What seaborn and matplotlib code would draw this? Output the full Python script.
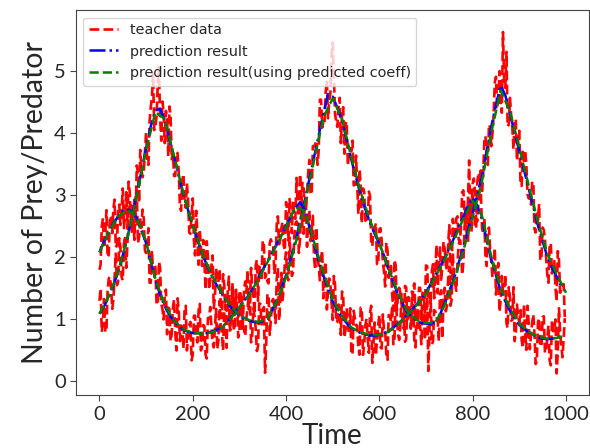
import numpy as np
import pandas as pd
import matplotlib
matplotlib.use("Agg")
import matplotlib.pyplot as plt
import seaborn as sns

# teacher data (noisy) at two interleaved time grids
t_teacher = [5 * k for k in range(200)]
t_teacher_b = [5 * k + 2.5 for k in range(200)]

prey_teacher = [
    1.29, 0.79, 1.32, 0.80, 1.65, 1.49, 1.32, 2.05, 1.60, 2.15,
    1.62, 2.34, 2.22, 2.83, 2.36, 2.92, 3.47, 2.87, 3.40, 3.37,
    4.00, 3.48, 4.41, 4.95, 4.10, 4.79, 4.26, 4.50, 3.83, 4.19,
    4.42, 3.57, 3.30, 3.68, 3.36, 2.74, 3.33, 2.79, 2.92, 2.37,
    2.94, 2.02, 2.38, 2.44, 1.85, 1.91, 2.25, 1.47, 1.85, 1.17,
    1.82, 1.59, 1.21, 1.72, 1.17, 1.44, 0.81, 1.58, 1.06, 1.21,
    0.78, 1.35, 0.83, 1.02, 1.42, 0.62, 1.17, 0.84, 0.56, 1.24,
    1.03, 0.13, 1.40, 0.74, 1.29, 1.18, 1.64, 0.97, 1.74, 1.49,
    2.07, 1.62, 1.98, 1.75, 2.53, 2.53, 2.29, 3.19, 2.74, 3.01,
    3.56, 3.00, 3.78, 3.87, 3.71, 4.53, 4.17, 4.66, 4.23, 4.63,
    5.45, 4.30, 4.09, 4.56, 4.31, 3.66, 4.18, 3.68, 3.70, 3.15,
    3.63, 2.69, 3.16, 3.10, 2.58, 2.55, 2.98, 2.17, 2.45, 1.88,
    2.44, 2.25, 1.76, 2.23, 1.66, 1.85, 1.14, 1.86, 1.38, 1.42,
    0.94, 1.53, 0.95, 1.12, 1.44, 0.63, 1.17, 0.87, 0.59, 1.19,
    0.98, 0.16, 1.36, 0.63, 1.12, 0.99, 1.39, 0.68, 1.50, 1.21,
    1.84, 1.31, 1.68, 1.45, 2.19, 2.17, 1.90, 2.78, 2.24, 2.51,
    2.98, 2.46, 3.20, 3.22, 3.02, 3.87, 3.60, 4.13, 3.78, 4.30,
    4.90, 4.41, 4.49, 5.62, 4.72, 4.10, 4.56, 4.09, 4.19, 3.55,
    4.03, 3.14, 3.54, 3.50, 2.94, 2.84, 3.20, 2.39, 2.59, 1.94,
    2.47, 2.28, 1.71, 2.21, 1.73, 1.93, 1.28, 1.95, 1.49, 1.56,
]

prey_teacher_b = [
    1.49, 0.95, 0.79, 1.45, 1.68, 1.16, 1.66, 1.54, 2.30, 1.67,
    2.20, 1.82, 2.72, 2.76, 2.64, 2.54, 3.36, 3.72, 3.28, 3.70,
    3.52, 4.18, 4.57, 4.04, 4.26, 5.05, 3.87, 4.34, 4.35, 3.62,
    4.27, 3.68, 3.30, 3.67, 2.82, 3.23, 2.89, 3.18, 2.39, 2.68,
    2.26, 2.74, 1.87, 2.16, 2.27, 1.47, 2.01, 1.63, 2.02, 1.35,
    1.61, 1.80, 1.01, 1.55, 1.13, 1.68, 0.88, 1.16, 1.35, 0.70,
    1.43, 0.88, 0.72, 1.15, 1.40, 0.74, 1.04, 0.48, 1.25, 0.91,
    1.19, 0.61, 1.38, 0.99, 1.32, 0.93, 1.82, 1.28, 1.30, 1.93,
    1.69, 2.31, 1.69, 2.31, 2.57, 2.06, 2.69, 3.17, 2.79, 3.35,
    3.03, 3.78, 3.81, 3.48, 4.53, 4.08, 4.14, 4.84, 4.52, 5.25,
    4.93, 4.18, 4.41, 3.83, 4.41, 4.14, 3.47, 3.75, 3.87, 3.16,
    3.16, 3.41, 2.54, 3.05, 2.58, 3.05, 2.22, 2.45, 2.54, 1.87,
    2.46, 1.91, 1.52, 2.10, 1.82, 1.39, 1.95, 1.13, 1.50, 1.28,
    0.84, 1.51, 1.19, 0.84, 1.34, 0.54, 1.13, 0.88, 1.21, 0.66,
    1.35, 0.81, 0.59, 1.14, 1.02, 0.64, 1.46, 1.32, 1.12, 1.65,
    1.21, 2.06, 1.57, 1.91, 2.27, 1.71, 2.44, 2.33, 2.88, 2.40,
    2.91, 2.46, 3.35, 3.39, 3.31, 3.94, 3.48, 4.08, 3.99, 4.81,
    4.41, 4.99, 4.32, 4.83, 5.30, 4.13, 4.27, 3.73, 4.22, 3.88,
    3.20, 3.69, 3.71, 3.01, 2.97, 3.21, 2.45, 2.73, 2.85, 2.00,
    2.43, 1.98, 1.58, 2.21, 1.90, 1.50, 2.09, 1.42, 1.50, 1.03,
]

pred_teacher = [
    1.79, 2.49, 2.14, 2.75, 2.03, 2.62, 2.78, 2.15, 2.73, 2.51,
    3.10, 2.69, 2.45, 3.03, 2.85, 2.27, 3.08, 2.31, 2.47, 2.61,
    2.06, 2.46, 1.58, 1.75, 1.83, 1.23, 1.83, 1.16, 1.38, 0.75,
    1.16, 0.76, 1.31, 0.49, 1.14, 0.89, 0.52, 1.21, 0.70, 0.95,
    0.42, 1.05, 0.62, 1.24, 0.55, 0.88, 0.36, 1.01, 0.86, 0.54,
    1.16, 0.65, 0.87, 0.49, 1.23, 1.12, 0.88, 1.48, 0.81, 1.09,
    1.45, 0.80, 1.48, 1.42, 1.15, 1.82, 1.36, 1.86, 1.29, 1.73,
    2.26, 1.66, 1.60, 2.22, 2.21, 1.72, 2.52, 2.20, 2.46, 2.18,
    2.88, 2.26, 2.70, 2.91, 2.61, 2.80, 3.33, 2.49, 2.89, 2.16,
    2.75, 2.44, 1.98, 2.47, 1.83, 1.98, 1.33, 1.92, 1.47, 1.57,
    0.98, 1.56, 0.95, 1.11, 1.44, 0.70, 1.17, 0.77, 0.46, 1.13,
    0.89, 0.53, 1.18, 0.42, 0.90, 0.69, 1.09, 0.29, 0.94, 0.64,
    1.06, 0.52, 0.81, 0.40, 1.06, 0.95, 0.59, 1.38, 0.75, 0.88,
    1.28, 0.63, 1.24, 1.17, 0.91, 1.57, 1.09, 1.50, 0.99, 1.37,
    1.86, 1.31, 1.27, 1.88, 1.80, 1.41, 2.15, 1.84, 2.13, 1.78,
    2.51, 1.79, 2.44, 2.62, 2.28, 2.48, 3.07, 2.46, 2.91, 2.49,
    3.18, 3.06, 2.57, 3.06, 2.47, 2.62, 1.85, 2.47, 1.91, 1.93,
    1.39, 1.90, 1.29, 1.43, 1.71, 0.85, 1.34, 0.98, 0.64, 1.23,
    0.95, 0.66, 1.23, 0.50, 0.95, 0.74, 1.07, 0.27, 0.94, 0.57,
    1.03, 0.45, 0.69, 0.33, 0.98, 0.81, 0.12, 1.17, 0.57, 0.67,
]

pred_teacher_b = [
    1.87, 2.62, 2.38, 1.99, 2.66, 2.38, 2.92, 2.19, 2.84, 2.75,
    2.46, 3.04, 3.21, 2.54, 2.62, 2.96, 2.22, 2.60, 2.76, 2.10,
    2.21, 1.58, 2.10, 1.88, 1.23, 1.92, 1.24, 0.99, 1.47, 1.18,
    0.64, 1.18, 0.80, 1.33, 0.64, 0.85, 1.15, 0.49, 0.90, 0.33,
    1.05, 0.70, 1.13, 0.49, 0.90, 0.42, 1.01, 1.19, 0.62, 0.85,
    0.51, 1.29, 0.78, 1.09, 0.53, 1.24, 1.10, 0.86, 1.51, 1.03,
    1.32, 0.93, 1.60, 1.78, 1.18, 1.50, 1.08, 1.95, 1.84, 1.64,
    2.19, 1.71, 1.57, 2.28, 2.17, 1.89, 2.65, 2.27, 2.56, 2.10,
    2.75, 2.93, 2.38, 2.64, 3.27, 2.65, 2.94, 2.37, 2.96, 2.68,
    2.25, 2.66, 1.79, 2.06, 1.62, 2.10, 1.83, 1.15, 1.65, 1.26,
    1.69, 0.94, 1.23, 0.74, 1.37, 0.82, 0.89, 1.17, 0.42, 1.01,
    0.89, 0.42, 1.17, 0.59, 1.00, 0.45, 1.21, 0.63, 0.41, 0.89,
    0.54, 1.07, 0.82, 0.34, 1.05, 1.21, 0.69, 1.02, 0.66, 1.40,
    1.15, 0.67, 1.35, 1.07, 1.50, 0.98, 0.85, 1.50, 1.42, 1.10,
    1.85, 1.41, 1.77, 1.33, 2.19, 1.83, 1.63, 2.24, 1.86, 2.20,
    1.74, 2.61, 2.27, 2.65, 2.22, 3.04, 2.74, 2.41, 3.55, 2.74,
    3.26, 2.60, 2.90, 3.06, 2.37, 2.00, 2.43, 2.10, 1.67, 2.14,
    1.61, 1.11, 1.69, 1.48, 0.93, 1.51, 0.97, 1.51, 0.78, 1.02,
    1.14, 0.53, 0.76, 1.21, 0.51, 0.93, 0.76, 0.32, 1.01, 0.55,
    1.04, 0.49, 0.89, 0.25, 0.80, 0.99, 0.46, 0.77, 0.38, 1.01,
]

# prediction result, every 10 time units
t_pred = [10 * k for k in range(100)]

prey_pred = [
    1.08, 1.20, 1.35, 1.54, 1.75, 2.02, 2.30, 2.65, 3.00, 3.38,
    3.75, 4.10, 4.36, 4.38, 4.20, 3.90, 3.60, 3.30, 3.00, 2.75,
    2.50, 2.27, 2.05, 1.87, 1.70, 1.56, 1.44, 1.31, 1.20, 1.12,
    1.05, 1.00, 0.97, 0.95, 0.94, 0.96, 1.00, 1.13, 1.30, 1.50,
    1.70, 1.97, 2.25, 2.57, 2.90, 3.25, 3.60, 3.96, 4.30, 4.62,
    4.58, 4.40, 4.20, 3.88, 3.56, 3.28, 3.00, 2.76, 2.55, 2.37,
    2.20, 2.02, 1.78, 1.58, 1.40, 1.24, 1.10, 1.03, 0.97, 0.93,
    0.92, 0.92, 0.94, 1.07, 1.25, 1.45, 1.65, 1.90, 2.15, 2.42,
    2.70, 3.00, 3.30, 3.70, 4.10, 4.45, 4.76, 4.60, 4.30, 4.00,
    3.70, 3.40, 3.10, 2.80, 2.50, 2.25, 2.00, 1.82, 1.68, 1.52,
]

pred_pred = [
    2.07, 2.25, 2.40, 2.54, 2.65, 2.74, 2.77, 2.72, 2.62, 2.42,
    2.22, 1.92, 1.62, 1.39, 1.20, 1.06, 0.96, 0.88, 0.82, 0.79,
    0.77, 0.76, 0.76, 0.77, 0.79, 0.82, 0.85, 0.92, 1.00, 1.10,
    1.20, 1.29, 1.38, 1.51, 1.65, 1.79, 1.93, 2.07, 2.20, 2.35,
    2.50, 2.64, 2.78, 2.88, 2.76, 2.48, 2.20, 1.94, 1.70, 1.48,
    1.28, 1.14, 1.02, 0.93, 0.85, 0.81, 0.77, 0.75, 0.73, 0.73,
    0.74, 0.77, 0.80, 0.86, 0.92, 0.99, 1.07, 1.15, 1.23, 1.32,
    1.42, 1.56, 1.70, 1.84, 1.98, 2.14, 2.30, 2.48, 2.65, 2.82,
    2.95, 2.82, 2.60, 2.27, 1.95, 1.70, 1.45, 1.28, 1.13, 1.01,
    0.90, 0.84, 0.78, 0.74, 0.70, 0.68, 0.67, 0.68, 0.69, 0.72,
]

# prediction using predicted coefficients, every 20 time units
t_coef = [20 * k for k in range(51)]

prey_coef = [
    1.08, 1.36, 1.76, 2.30, 2.98, 3.72, 4.33, 4.22, 3.62, 3.02,
    2.52, 2.07, 1.71, 1.45, 1.21, 1.06, 0.98, 0.95, 1.00, 1.28,
    1.67, 2.20, 2.85, 3.55, 4.24, 4.55, 4.22, 3.60, 3.04, 2.58,
    2.22, 1.80, 1.42, 1.12, 0.98, 0.93, 0.94, 1.22, 1.62, 2.10,
    2.64, 3.22, 4.00, 4.68, 4.34, 3.76, 3.15, 2.56, 2.05, 1.72,
    1.42,
]

pred_coef = [
    2.07, 2.40, 2.65, 2.76, 2.63, 2.24, 1.64, 1.22, 0.97, 0.83,
    0.77, 0.76, 0.78, 0.84, 0.99, 1.19, 1.37, 1.63, 1.91, 2.19,
    2.48, 2.80, 2.74, 2.24, 1.74, 1.31, 1.04, 0.86, 0.78, 0.74,
    0.74, 0.79, 0.91, 1.06, 1.22, 1.40, 1.68, 1.96, 2.27, 2.61,
    2.90, 2.66, 2.00, 1.50, 1.16, 0.92, 0.79, 0.71, 0.68, 0.69,
    0.73,
]

sns.set_style("ticks")
plt.rcParams["font.family"] = ["Lato", "DejaVu Sans"]

fig = plt.figure(figsize=(5.9, 4.48), dpi=100)
ax = fig.add_axes([0.129, 0.118, 0.869, 0.859])

# teacher data (both grids merged, seaborn sorts by x)
sns.lineplot(x=t_teacher + t_teacher_b, y=prey_teacher + prey_teacher_b, ax=ax,
             color="red", linestyle="--", linewidth=1.9, label="teacher data")
sns.lineplot(x=t_teacher + t_teacher_b, y=pred_teacher + pred_teacher_b, ax=ax,
             color="red", linestyle="--", linewidth=1.9)
# prediction result
sns.lineplot(x=t_pred, y=prey_pred, ax=ax, color="blue", linestyle="-.",
             linewidth=1.8, label="prediction result")
sns.lineplot(x=t_pred, y=pred_pred, ax=ax, color="blue", linestyle="-.",
             linewidth=1.8)
# prediction with predicted coefficients
sns.lineplot(x=t_coef, y=prey_coef, ax=ax, color="green", linestyle="--",
             linewidth=1.8, label="prediction result(using predicted coeff)")
sns.lineplot(x=t_coef, y=pred_coef, ax=ax, color="green", linestyle="--",
             linewidth=1.8)

ax.set_xlim(-50, 1049)
ax.set_ylim(-0.23, 5.97)
ax.set_xticks([0, 200, 400, 600, 800, 1000])
ax.set_yticks([0, 1, 2, 3, 4, 5])
ax.tick_params(labelsize=14.5, length=4, color="#444444")
for s in ax.spines.values():
    s.set_color("#444444")

ax.set_xlabel("Time", fontsize=20, labelpad=0)
ax.set_ylabel("Number of Prey/Predator", fontsize=20.5, labelpad=4)

ax.legend(loc="upper left", prop={"family": "DejaVu Sans", "size": 10.4},
          framealpha=0.8, handlelength=2.0)

fig.savefig("out.png", dpi=100)
